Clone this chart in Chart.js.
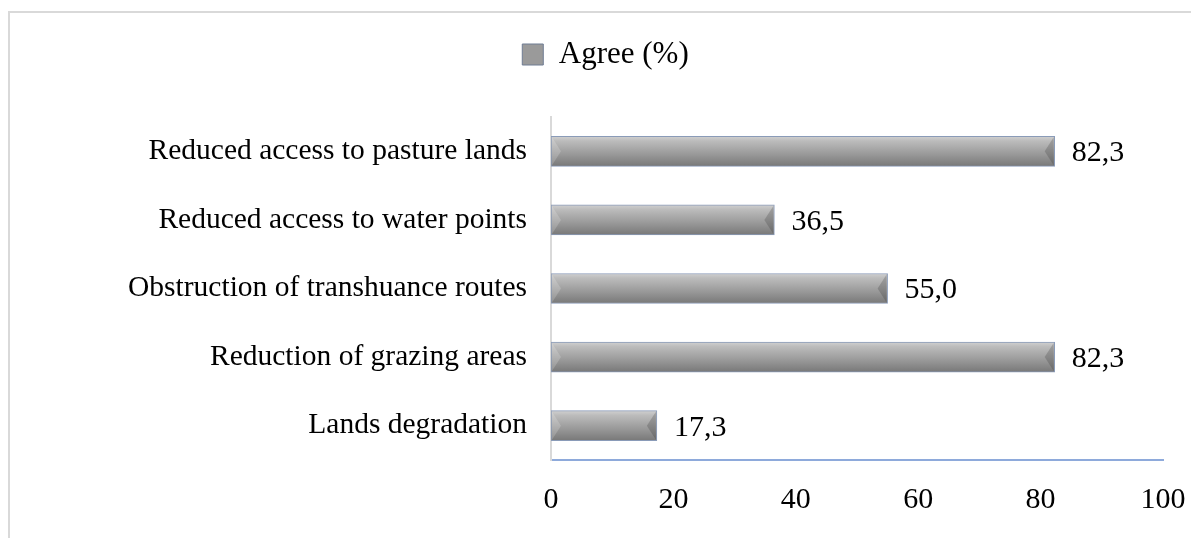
<!DOCTYPE html>
<html>
<head>
<meta charset="utf-8">
<script src="https://cdn.jsdelivr.net/npm/chart.js@4"></script>
<style>
  html, body { margin: 0; padding: 0; background: #fff; }
  #wrap { width: 1191px; height: 538px; }
</style>
</head>
<body>
<div id="wrap"><canvas id="chart" width="1191" height="538"></canvas></div>
<script>
const categories = [
  'Reduced access to pasture lands',
  'Reduced access to water points',
  'Obstruction of transhuance routes',
  'Reduction of grazing areas',
  'Lands degradation'
];
const agreeValues = [82.3, 36.5, 55.0, 82.3, 17.3];
const seriesLabel = 'Agree (%)';
const xTicks = [0, 20, 40, 60, 80, 100];

const serif = '"Liberation Serif", "Times New Roman", serif';
const ctx = document.getElementById('chart').getContext('2d');

// light grey frame round the chart like the office export
const framePlugin = {
  id: 'frame',
  beforeDraw(chart) {
    const c = chart.ctx;
    c.save();
    c.strokeStyle = '#d9d9d9';
    c.lineWidth = 2;
    c.strokeRect(9, 12, chart.width + 20, chart.height + 20);
    c.restore();
  }
};

// push the plot down below the legend
const legendGap = {
  id: 'legendGap',
  beforeInit(chart) {
    const fit = chart.legend.fit;
    chart.legend.fit = function () {
      fit.call(this);
      this.height += 37;
    };
  }
};

// bevelled ends on the bars + value labels
const barExtras = {
  id: 'barExtras',
  afterDatasetsDraw(chart) {
    const c = chart.ctx;
    const meta = chart.getDatasetMeta(0);
    c.save();
    meta.data.forEach((bar) => {
      const top = bar.y - bar.height / 2 + 1;
      const bot = bar.y + bar.height / 2 - 1;
      const l = bar.base + 1;
      const r = bar.x - 1;
      const d = 9;
      c.fillStyle = 'rgba(255,255,255,0.18)';
      c.beginPath();
      c.moveTo(l, top); c.lineTo(l + d, bar.y); c.lineTo(l, bot); c.closePath();
      c.fill();
      c.fillStyle = 'rgba(40,40,40,0.22)';
      c.beginPath();
      c.moveTo(r, top); c.lineTo(r - d, bar.y); c.lineTo(r, bot); c.closePath();
      c.fill();
    });
    c.font = '30px ' + serif;
    c.fillStyle = '#000';
    c.textAlign = 'left';
    c.textBaseline = 'middle';
    meta.data.forEach((bar, i) => {
      c.fillText(agreeValues[i].toFixed(1).replace('.', ','), bar.x + 17, bar.y + 2);
    });
    c.restore();
  }
};

function barFill(context) {
  const chart = context.chart;
  if (!chart.chartArea || context.dataIndex === undefined) return '#a6a6a6';
  const y = chart.scales.y.getPixelForValue(context.dataIndex);
  const g = chart.ctx.createLinearGradient(0, y - 15, 0, y + 15);
  g.addColorStop(0, '#d0d0d0');
  g.addColorStop(0.15, '#bcbcbc');
  g.addColorStop(0.6, '#999999');
  g.addColorStop(1, '#787878');
  return g;
}

const myChart = new Chart(ctx, {
  type: 'bar',
  data: {
    labels: categories,
    datasets: [{
      label: seriesLabel,
      data: agreeValues,
      backgroundColor: barFill,
      borderColor: '#8a9bb8',
      borderWidth: 1,
      borderSkipped: false,
      barThickness: 30
    }]
  },
  options: {
    indexAxis: 'y',
    responsive: false,
    animation: false,
    layout: { padding: { left: 48, right: 28, top: 29, bottom: 0 } },
    plugins: {
      legend: {
        display: true,
        position: 'top',
        labels: {
          font: { family: serif, size: 31 },
          color: '#000',
          boxWidth: 21,
          boxHeight: 21,
          padding: 10,
          generateLabels() {
            return [{
              text: seriesLabel,
              fillStyle: '#9a9a9a',
              strokeStyle: '#6f7c93',
              lineWidth: 1,
              datasetIndex: 0
            }];
          }
        }
      },
      tooltip: { enabled: false }
    },
    scales: {
      x: {
        min: 0,
        max: 100,
        afterFit(scale) {
          scale.height = 78;
          scale.paddingLeft = 0;
          scale.paddingRight = 0;
        },
        afterBuildTicks(scale) { scale.ticks = xTicks.map(v => ({ value: v })); },
        grid: { display: false, drawTicks: false },
        border: { display: true, color: '#8eaadb', width: 2 },
        ticks: {
          padding: 22,
          color: '#000',
          font: { family: serif, size: 30 }
        }
      },
      y: {
        afterFit(scale) { scale.width = 503; },
        grid: { display: false, drawTicks: false },
        border: { display: true, color: '#d9d9d9', width: 2 },
        ticks: {
          padding: 24,
          color: '#000',
          font: { family: serif, size: 29.5 }
        }
      }
    }
  },
  plugins: [framePlugin, legendGap, barExtras]
});
</script>
</body>
</html>
